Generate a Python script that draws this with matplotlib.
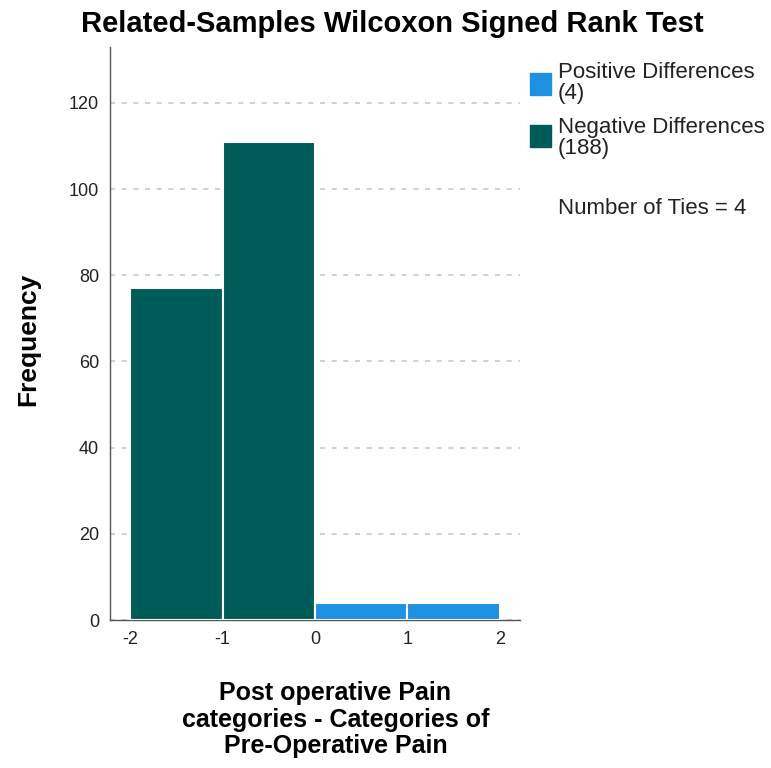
import matplotlib
matplotlib.use("Agg")
import matplotlib.pyplot as plt
import matplotlib.patches as mpatches

plt.rcParams['font.family'] = ['Liberation Sans', 'DejaVu Sans']

# histogram bins (difference categories) and frequencies
bin_left = [-2, -1, 0, 1]
freq = [77, 111, 4, 4]
sign = ['neg', 'neg', 'pos', 'pos']
n_pos, n_neg, n_ties = 4, 188, 4
xticks = [-2, -1, 0, 1, 2]
yticks = [0, 20, 40, 60, 80, 100, 120]

C_POS = '#1E91E3'
C_NEG = '#005C59'

fig = plt.figure(figsize=(7.71, 7.68), dpi=100)
ax = fig.add_axes([0.1427, 0.1927, 0.5317, 0.7463])

colors = [C_NEG if s == 'neg' else C_POS for s in sign]
ax.bar(bin_left, freq, width=1.0, align='edge', color=colors,
       edgecolor='white', linewidth=1.5, zorder=3)

ax.set_xlim(-2.22, 2.22)
ax.set_ylim(0, 133)
ax.set_xticks(xticks, [str(t) for t in xticks])
ax.set_yticks(yticks)
ax.tick_params(length=0, labelsize=13, colors='#222', pad=8)
ax.yaxis.grid(True, linestyle=(0, (3, 4)), color='#c8c8c8', linewidth=1.2, zorder=0)
for s in ['top', 'right']:
    ax.spines[s].set_visible(False)
for s in ['left', 'bottom']:
    ax.spines[s].set_color('#555')
    ax.spines[s].set_linewidth(1.0)

ax.set_ylabel('Frequency', fontsize=19, fontweight='bold')
ax.yaxis.set_label_coords(-0.17, 0.49)
ax.set_xlabel('Post operative Pain\ncategories - Categories of\nPre-Operative Pain',
              fontsize=18, fontweight='bold', linespacing=1.12)
ax.xaxis.set_label_coords(0.55, -0.107)
fig.text(0.509, 0.969, 'Related-Samples Wilcoxon Signed Rank Test',
         ha='center', va='center', fontsize=21, fontweight='bold')

# legend drawn at the right
W, H = 771, 768
def box(x, y, c):
    fig.patches.append(mpatches.Rectangle((x / W, 1 - (y + 22) / H), 21 / W, 22 / H,
                                          transform=fig.transFigure, color=c))
box(530, 73, C_POS)
box(530, 125, C_NEG)
fs = 16
fig.text(558 / W, 1 - 62 / H, f'Positive Differences\n({n_pos})', ha='left', va='top',
         fontsize=fs, linespacing=1.0, color='#222')
fig.text(558 / W, 1 - 117 / H, f'Negative Differences\n({n_neg})', ha='left', va='top',
         fontsize=fs, linespacing=1.0, color='#222')
fig.text(558 / W, 1 - 208 / H, f'Number of Ties = {n_ties}', ha='left', va='center',
         fontsize=fs, color='#222')

fig.savefig('out.png', dpi=100, facecolor='white')
